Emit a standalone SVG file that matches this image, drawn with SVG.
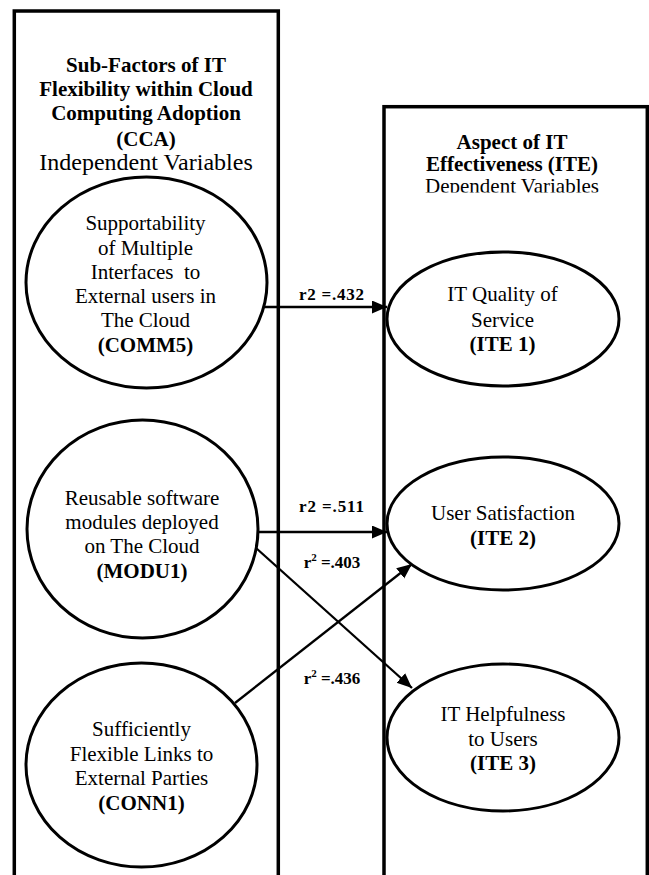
<svg xmlns="http://www.w3.org/2000/svg" width="649" height="875" viewBox="0 0 649 875">
<style>
text{font-family:"Liberation Serif","Times New Roman",serif;fill:#000;text-anchor:middle}
.t{font-size:21px}
.b{font-weight:bold}
.lbl{font-size:17px;font-weight:bold}
.box{fill:none;stroke:#000;stroke-width:3.5}
.node{fill:#fff;stroke:#000;stroke-width:3}
.con{stroke:#000;stroke-width:2.3;fill:none;marker-end:url(#ah)}
</style>
<defs>
<marker id="ah" markerUnits="userSpaceOnUse" markerWidth="16" markerHeight="14" refX="15" refY="6.5" orient="auto">
<path d="M0,0 L15,6.5 L0,13 z" fill="#000"/>
</marker>
<clipPath id="dvclip"><rect x="383" y="177" width="266" height="15.5"/></clipPath>
</defs>
<rect width="649" height="875" fill="#fff"/>

<g id="cca-box">
<rect class="box" x="14.3" y="11" width="264" height="900"/>
<text class="t b" x="146" y="72">Sub-Factors of IT</text>
<text class="t b" x="146" y="96">Flexibility within Cloud</text>
<text class="t b" x="146" y="120">Computing Adoption</text>
<text class="t b" x="146" y="146">(CCA)</text>
<text x="146" y="170" style="font-size:24px">Independent Variables</text>
</g>

<g id="ite-box">
<rect class="box" x="384" y="106.7" width="263.3" height="800"/>
<text class="t b" x="512" y="149">Aspect of IT</text>
<text class="t b" x="512" y="171">Effectiveness (ITE)</text>
<text class="t" x="512" y="193" clip-path="url(#dvclip)">Dependent Variables</text>
</g>

<g id="connectors">
<line class="con" x1="262" y1="307" x2="387" y2="307"/>
<line class="con" x1="258" y1="532" x2="387" y2="532"/>
<line class="con" x1="256" y1="548" x2="412" y2="688"/>
<line class="con" x1="235" y1="703" x2="412" y2="564"/>
<text class="lbl" x="331.5" y="300" textLength="65" lengthAdjust="spacing">r2 =.432</text>
<text class="lbl" x="331.5" y="512" textLength="65" lengthAdjust="spacing">r2 =.511</text>
<text class="lbl" x="332" y="568">r<tspan font-size="11" dy="-7">2</tspan><tspan dy="7"> =.403</tspan></text>
<text class="lbl" x="332" y="684">r<tspan font-size="11" dy="-7">2</tspan><tspan dy="7"> =.436</tspan></text>
</g>

<g id="comm5">
<ellipse class="node" cx="146.5" cy="282.5" rx="120.5" ry="105.5"/>
<text class="t" x="145.5" y="230">Supportability</text>
<text class="t" x="145.5" y="255">of Multiple</text>
<text class="t" x="145.5" y="279" xml:space="preserve">Interfaces  to</text>
<text class="t" x="145.5" y="303">External users in</text>
<text class="t" x="145.5" y="327">The Cloud</text>
<text class="t b" x="145.5" y="352">(COMM5)</text>
</g>

<g id="modu1">
<ellipse class="node" cx="142.5" cy="529" rx="115.5" ry="109"/>
<text class="t" x="142" y="505">Reusable software</text>
<text class="t" x="142" y="529">modules deployed</text>
<text class="t" x="142" y="553">on The Cloud</text>
<text class="t b" x="142" y="578">(MODU1)</text>
</g>

<g id="conn1">
<ellipse class="node" cx="141.5" cy="765" rx="115.5" ry="102"/>
<text class="t" x="141.5" y="736">Sufficiently</text>
<text class="t" x="141.5" y="761">Flexible Links to</text>
<text class="t" x="141.5" y="785">External Parties</text>
<text class="t b" x="141.5" y="810">(CONN1)</text>
</g>

<g id="ite1">
<ellipse class="node" cx="503" cy="319" rx="116" ry="67"/>
<text class="t" x="502.5" y="301">IT Quality of</text>
<text class="t" x="502.5" y="327">Service</text>
<text class="t b" x="502.5" y="351">(ITE 1)</text>
</g>

<g id="ite2">
<ellipse class="node" cx="503" cy="523.5" rx="116" ry="66.5"/>
<text class="t" x="503" y="520">User Satisfaction</text>
<text class="t b" x="503" y="545">(ITE 2)</text>
</g>

<g id="ite3">
<ellipse class="node" cx="503" cy="737.5" rx="116" ry="73.5"/>
<text class="t" x="503" y="721">IT Helpfulness</text>
<text class="t" x="503" y="746">to Users</text>
<text class="t b" x="503" y="770">(ITE 3)</text>
</g>
</svg>
